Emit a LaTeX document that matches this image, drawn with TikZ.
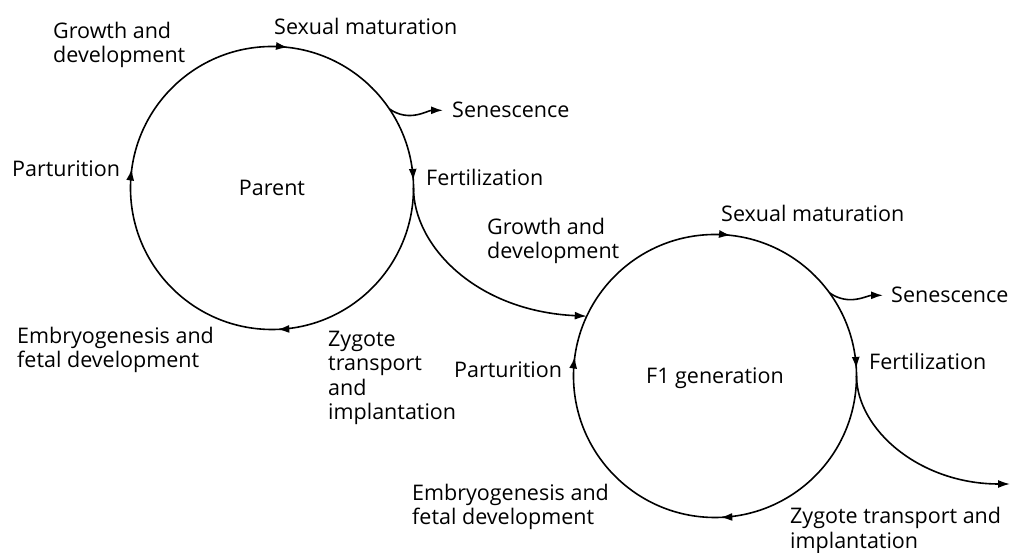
\documentclass[tikz,border=0pt]{standalone}
\usepackage{fontspec}
\setmainfont{Open Sans}
\usetikzlibrary{arrows.meta,decorations.markings}
\begin{document}
\begin{tikzpicture}[x=1pt,y=1pt,
  cyc/.tip={Latex[length=12pt,width=8pt]},
  lbl/.style={inner sep=0pt, font=\fontsize{21.5}{24.5}\selectfont, align=left},
  gen/.style={circle, minimum size=283pt, inner sep=0pt, outer sep=0pt,
              text depth=0pt, font=\fontsize{21.5}{24.5}\selectfont},
  ring/.style={line width=1.6pt, postaction={decorate},
    decoration={markings,
      mark=at position 0.018 with {\arrow{cyc}},
      mark=at position 0.242 with {\arrow{cyc}},
      mark=at position 0.494 with {\arrow{cyc}},
      mark=at position 0.772 with {\arrow{cyc}}}},
  flow/.style={line width=1.6pt, -{cyc}}]
\useasboundingbox (0,0) rectangle (1013,553);

% the two generations
\node[gen] (p)  at (272,365) {Parent};
\node[gen] (f1) at (715,177) {F1 generation};

% life cycles, drawn clockwise from the top
\draw[ring] (p.north)  arc[start angle=90, end angle=-270, radius=141.5pt];
\draw[ring] (f1.north) arc[start angle=90, end angle=-270, radius=141.5pt];

% labels of the parent cycle (base = baseline of the last line)
\node[lbl, anchor=base west] (grow1) at (53,490)  {Growth and\\development};
\node[lbl, anchor=base west] (mat1)  at (274,518) {Sexual maturation};
\node[lbl, anchor=base west] (sen1)  at (452,435) {Senescence};
\node[lbl, anchor=base west] (fer1)  at (426,367) {Fertilization};
\node[lbl, anchor=base west] (par1)  at (12,376)  {Parturition};
\node[lbl, anchor=base west] (emb1)  at (17,185)  {Embryogenesis and\\fetal development};
\node[lbl, anchor=base west] (zyg1)  at (328,133) {Zygote\\transport\\and\\implantation};

% labels of the F1 cycle
\node[lbl, anchor=base west] (grow2) at (487,294) {Growth and\\development};
\node[lbl, anchor=base west] (mat2)  at (721,331) {Sexual maturation};
\node[lbl, anchor=base west] (sen2)  at (891,250) {Senescence};
\node[lbl, anchor=base west] (fer2)  at (869,183) {Fertilization};
\node[lbl, anchor=base west] (par2)  at (454,175) {Parturition};
\node[lbl, anchor=base west] (emb2)  at (412,28)  {Embryogenesis and\\fetal development};
\node[lbl, anchor=base west] (zyg2)  at (790,4.5) {Zygote transport and\\implantation};

% senescence branches
\draw[flow, shorten >=9pt] (p.34.5) to[out=-35, in=180] (sen1.west);
\draw[flow, shorten >=8pt] (f1.36)  to[out=-35, in=180] (sen2.west);

% from fertilization to the next generation
\coordinate (next) at (1010,69);
\draw[flow] (p.east) .. controls (413.5,308) and (475,242) .. (f1.155);
\draw[flow] (f1.east) .. controls (857,123) and (920,69) .. (next);
\end{tikzpicture}
\end{document}
